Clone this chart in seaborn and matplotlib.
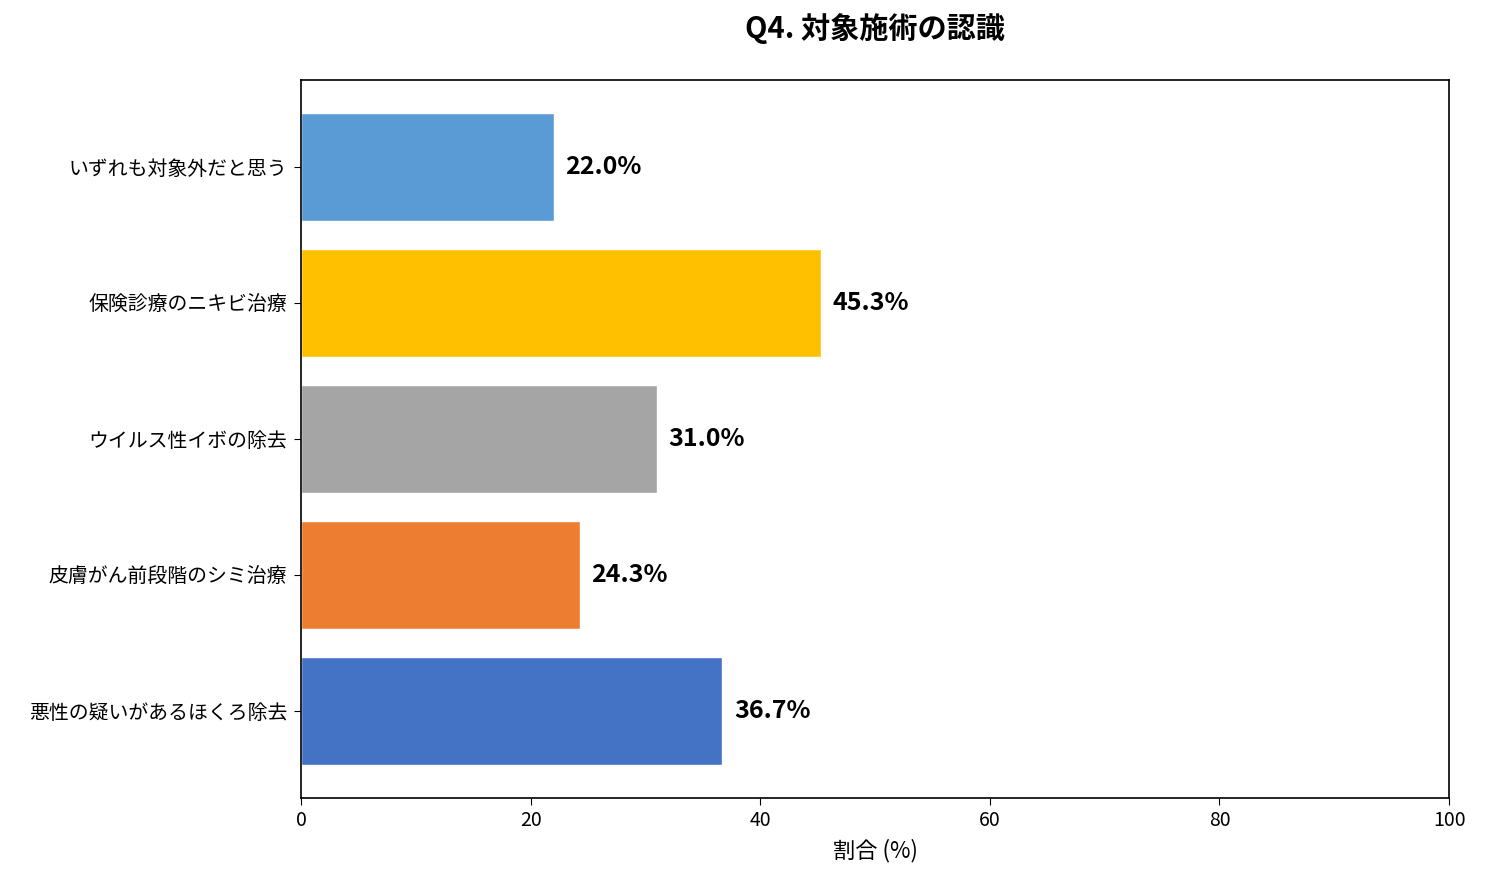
import matplotlib
matplotlib.use("Agg")
import matplotlib.pyplot as plt
import seaborn as sns
import pandas as pd

categories = ["いずれも対象外だと思う", "保険診療のニキビ治療", "ウイルス性イボの除去",
              "皮膚がん前段階のシミ治療", "悪性の疑いがあるほくろ除去"]
values = [22.0, 45.3, 31.0, 24.3, 36.7]
colors = ["#5B9BD5", "#FFC000", "#A5A5A5", "#ED7D31", "#4472C4"]

sns.set_style("white")
plt.rcParams['font.family'] = ['Noto Sans CJK JP', 'DejaVu Sans']
plt.rcParams['text.color'] = 'black'
plt.rcParams['axes.labelcolor'] = 'black'
plt.rcParams['xtick.color'] = 'black'
plt.rcParams['ytick.color'] = 'black'

df = pd.DataFrame({"cat": categories, "val": values})

fig = plt.figure(figsize=(14.85, 8.81), dpi=100)
ax = fig.add_axes([0.2027, 0.0942, 0.7731, 0.815])
sns.barplot(data=df, y="cat", x="val", order=categories, hue="cat",
            palette=dict(zip(categories, colors)), orient="h", width=0.8,
            saturation=1, legend=False, ax=ax)
ax.set_xlim(0, 100)
ax.set_ylim(4.64, -0.64)
for i, v in enumerate(values):
    ax.text(v + 1, i, f"{v:.1f}%", va="center", ha="left", fontsize=18, fontweight="bold")
ax.set_xlabel("割合 (%)", fontsize=16, labelpad=6)
ax.set_ylabel("")
ax.set_title("Q4. 対象施術の認識", fontsize=21, fontweight="bold", pad=30)
ax.tick_params(axis="x", labelsize=14, length=5, bottom=True)
ax.tick_params(axis="y", labelsize=14.3, length=5, left=True, pad=5)
for s in ax.spines.values():
    s.set_color("black")
    s.set_linewidth(1.2)
fig.savefig("out.png", dpi=100)
